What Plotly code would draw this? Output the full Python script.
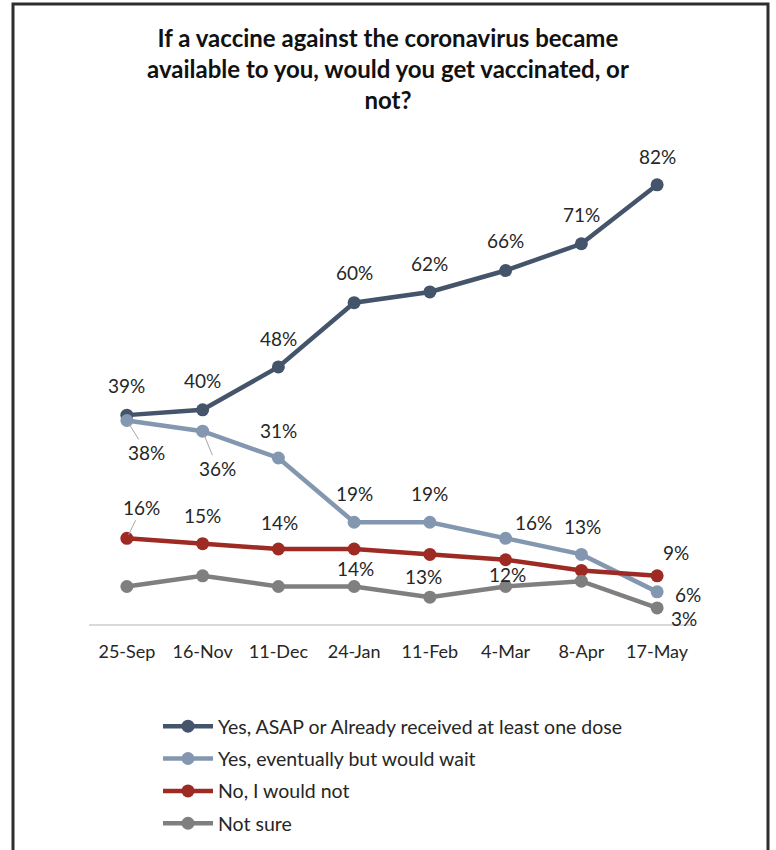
import plotly.graph_objects as go

# ---- data ----
dates = ["25-Sep", "16-Nov", "11-Dec", "24-Jan", "11-Feb", "4-Mar", "8-Apr", "17-May"]
yes_asap = [39, 40, 48, 60, 62, 66, 71, 82]
yes_wait = [38, 36, 31, 19, 19, 16, 13, 6]
no_not = [16, 15, 14, 14, 13, 12, 10, 9]
not_sure = [7, 9, 7, 7, 5, 7, 8, 3]

names = [
    "Yes, ASAP or Already received at least one dose",
    "Yes, eventually but would wait",
    "No, I would not",
    "Not sure",
]
series = [yes_asap, yes_wait, no_not, not_sure]
colors = ["#44546A", "#8497B0", "#9E2A24", "#7F7F7F"]
title_text = ("If a vaccine against the coronavirus became<br>"
              "available to you, would you get vaccinated, or<br>not?")

# label offsets in pixels (dx, dy screen; None = no label)
label_offsets = [
    [(0, -30), (0, -29), (0, -28), (0, -30), (0, -28), (0, -30), (0, -29), (0, -28)],
    [(20, 32), (15, 37), (0, -27), (0, -29), (0, -29), (28, -16), (1, -28), (31, 3)],
    [(15, -31), (0, -28), (1, -27), (1, 19), (-6, 22), (2, 15), None, (19, -23)],
    [None, None, None, None, None, None, None, (27, 11)],
]
leaders = {(1, 0), (1, 1), (2, 0)}

FONT = "Lato, Carlito, Calibri, sans-serif"
W, H = 776, 850
ML, MR, MT, MB = 89, 81, 142, 226
PW, PH = W - ML - MR, H - MT - MB


def px(x):
    return (x - ML) / PW


def py(y):
    return (H - MB - y) / PH


fig = go.Figure()
for i, (name, vals, col) in enumerate(zip(names, series, colors)):
    fig.add_trace(go.Scatter(
        x=dates, y=vals, name=name, mode="lines+markers",
        line=dict(color=col, width=4.5),
        marker=dict(color=col, size=13),
        legendgroup=str(i),
        hoverinfo="skip",
    ))

lab_font = dict(family=FONT, size=19, color="#262626")
annotations = []
for i, vals in enumerate(series):
    for j, v in enumerate(vals):
        off = label_offsets[i][j]
        if off is None:
            continue
        dx, dy = off
        if (i, j) in leaders:
            annotations.append(dict(
                x=dates[j], y=v, xref="x", yref="y", text=f"{v}%",
                showarrow=True, ax=dx, ay=dy, arrowhead=0, arrowwidth=1,
                arrowcolor="#A6A6A6", standoff=4, font=lab_font,
            ))
        else:
            annotations.append(dict(
                x=dates[j], y=v, xref="x", yref="y", text=f"{v}%",
                showarrow=False, xshift=dx, yshift=-dy, font=lab_font,
            ))

annotations.append(dict(
    text=title_text, xref="paper", yref="paper", x=px(388), y=py(21),
    xanchor="center", yanchor="top", showarrow=False,
    font=dict(family=FONT, size=24, color="#111111", weight="bold"),
))

# outer frame (open at bottom)
frame = dict(
    type="path", xref="paper", yref="paper",
    path=f"M {px(13)} {py(860)} L {px(13)} {py(4)} L {px(768)} {py(4)} L {px(768)} {py(860)}",
    line=dict(color="#2E2E2E", width=3),
)

fig.update_layout(
    width=W, height=H,
    margin=dict(l=ML, r=MR, t=MT, b=MB, autoexpand=False),
    paper_bgcolor="white", plot_bgcolor="white",
    xaxis=dict(
        type="category", range=[-0.5, 7.5],
        showline=True, linecolor="#D9D9D9", linewidth=1.5,
        showgrid=False, zeroline=False, ticks="",
        ticklabelstandoff=11,
        tickfont=dict(family=FONT, size=18, color="#262626"),
    ),
    yaxis=dict(range=[0, 90], visible=False, showgrid=False, zeroline=False),
    showlegend=True,
    legend=dict(
        x=px(158), y=py(707), xanchor="left", yanchor="top",
        orientation="v", traceorder="grouped", tracegroupgap=4,
        font=dict(family=FONT, size=19.5, color="#262626"),
        itemwidth=50, bgcolor="rgba(0,0,0,0)",
    ),
    annotations=annotations,
    shapes=[frame],
)

fig.write_html("out.html")
